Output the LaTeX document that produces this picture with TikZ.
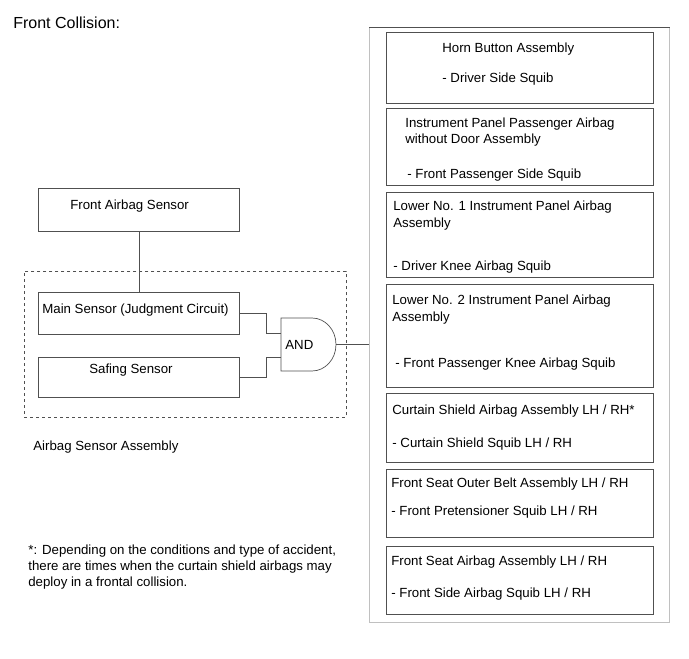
\documentclass[tikz,border=0pt]{standalone}
\usepackage{fontspec}
\setmainfont{Liberation Sans}
\usetikzlibrary{positioning,calc}

\begin{document}
\begin{tikzpicture}[x=1pt, y=-1pt, line width=0.7pt]
		% Colores
		\definecolor{linegray}{RGB}{80,80,80}   % lineas de las cajas
		\definecolor{framegray}{RGB}{192,192,192} % marco de la derecha
		
		\tikzset{
			box/.style={draw=linegray, anchor=north west, inner sep=0pt},
			wire/.style={draw=linegray},
			txt/.style={anchor=base west, inner sep=0pt, font=\fontsize{13.25}{16}\selectfont}
		}
		\useasboundingbox (0,0) rectangle (689,659);
		
		% --- Titulo ---
		\node[anchor=base west, inner sep=0pt, font=\fontsize{16}{18}\selectfont] (title) at (13,28) {Front Collision:};
		
		% --- Sensores (izquierda) ---
		\node[box, minimum width=201pt, minimum height=43pt] (fas) at (38,188) {};
		\node[draw=linegray, dashed, dash pattern=on 3pt off 3pt, line width=0.6pt, anchor=north west, inner sep=0pt,
			minimum width=322pt, minimum height=146pt] (sensorasm) at (24,271) {};
		\node[box, minimum width=201pt, minimum height=42pt] (mainsens) at (38,292) {};
		\node[box, minimum width=201pt, minimum height=40pt] (safing) at (38,357) {};
		
		\node[txt] (fastxt) at (70,209) {Front Airbag Sensor};
		\node[txt] (maintxt) at (42,313) {Main Sensor (Judgment Circuit)};
		\node[txt] (safingtxt) at (89,373) {Safing Sensor};
		\node[txt] (asmtxt) at (33,450) {Airbag Sensor Assembly};
		
		% --- Compuerta AND ---
		\coordinate (gin1) at (281,333);
		\coordinate (gin2) at (281,357);
		\coordinate (gout) at (336,344.5);
		\draw[wire] (281,318) -- (312,318) arc[start angle=-90, end angle=90, x radius=24, y radius=26.5]
			-- (281,371) -- cycle;
		\node[txt] (andtxt) at (285,349) {AND};
		
		% --- Cajas de la derecha ---
		\node[draw=framegray, anchor=north west, inner sep=0pt, minimum width=300pt, minimum height=595pt] (outbox) at (369,27) {};
		\draw[linegray] (outbox.north west) -- (outbox.north east);
		
		\node[box, minimum width=267pt, minimum height=71pt] (horn) at (386,32) {};
		\node[box, minimum width=267pt, minimum height=77pt] (ipab) at (386,108) {};
		\node[box, minimum width=267pt, minimum height=85pt] (knee1) at (386,192) {};
		\node[box, minimum width=267pt, minimum height=103pt] (knee2) at (386,284) {};
		\node[box, minimum width=267pt, minimum height=69pt] (curtain) at (386,393) {};
		\node[box, minimum width=267pt, minimum height=68pt] (belt) at (386,469) {};
		\node[box, minimum width=267pt, minimum height=68pt] (seat) at (386,546) {};
		
		% --- Textos de las cajas ---
		\node[txt] (horna) at (442,52) {Horn Button Assembly};
		\node[txt] (hornb) at (442,82) {- Driver Side Squib};
		\node[txt] (ipaba) at (405,127.5) {Instrument Panel Passenger Airbag};
		\node[txt] (ipabb) at (405,143) {without Door Assembly};
		\node[txt] (ipabc) at (407,178) {- Front Passenger Side Squib};
		\node[txt] (kneea) at (393,210) {Lower No. 1 Instrument Panel Airbag};
		\node[txt] (kneeb) at (393,227) {Assembly};
		\node[txt] (kneec) at (393,270) {- Driver Knee Airbag Squib};
		\node[txt] (kneed) at (392,304) {Lower No. 2 Instrument Panel Airbag};
		\node[txt] (kneee) at (392,321) {Assembly};
		\node[txt] (kneef) at (395,367) {- Front Passenger Knee Airbag Squib};
		\node[txt] (curtaina) at (392,414) {Curtain Shield Airbag Assembly LH / RH*};
		\node[txt] (curtainb) at (392,447) {- Curtain Shield Squib LH / RH};
		\node[txt] (belta) at (391,487) {Front Seat Outer Belt Assembly LH / RH};
		\node[txt] (beltb) at (391,515) {- Front Pretensioner Squib LH / RH};
		\node[txt] (seata) at (391,565) {Front Seat Airbag Assembly LH / RH};
		\node[txt] (seatb) at (391,597) {- Front Side Airbag Squib LH / RH};
		
		% --- Nota ---
		\node[txt] (notea) at (28,554) {*: Depending on the conditions and type of accident,};
		\node[txt] (noteb) at (28,570) {there are times when the curtain shield airbags may};
		\node[txt] (notec) at (28,586) {deploy in a frontal collision.};
		
		% --- Conexiones ---
		\draw[wire] (fas.south) -- (mainsens.north);
		\draw[wire] (mainsens.east) -- ++(27,0) |- (gin1);
		\draw[wire] (safing.east) -- ++(27,0) |- (gin2);
		\draw[wire] (gout) -- (gout -| outbox.west);
		
	\end{tikzpicture}
\end{document}
